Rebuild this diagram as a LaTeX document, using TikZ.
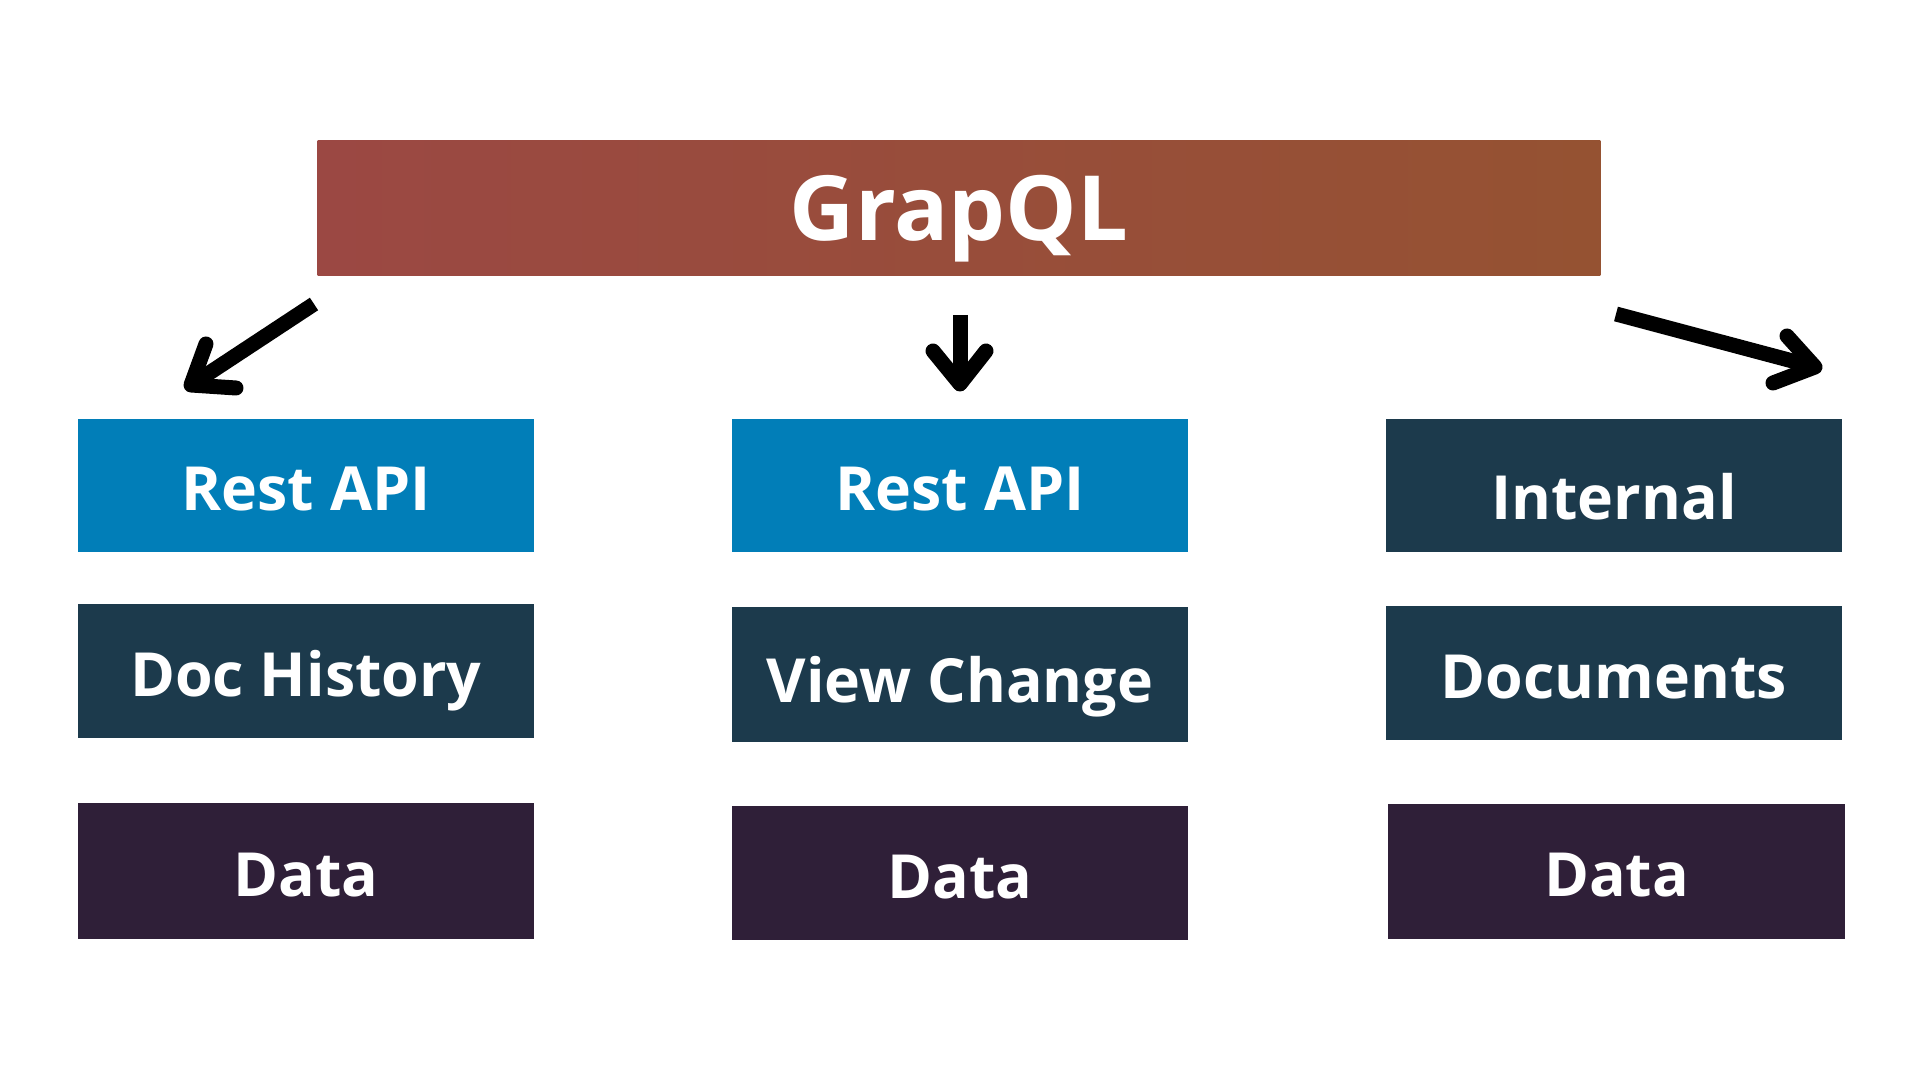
\documentclass[tikz,border=0pt]{standalone}
\usepackage{fontspec}
\setmainfont{Open Sans}
\usepackage{tikz}
\usetikzlibrary{positioning,calc}
\definecolor{qlleft}{RGB}{155,72,67}
\definecolor{qlright}{RGB}{149,82,50}
\definecolor{apiblue}{RGB}{1,126,184}
\definecolor{midteal}{RGB}{28,58,76}
\definecolor{datapurple}{RGB}{47,31,56}
\tikzset{every picture/.style={x=0.01cm,y=-0.01cm}}
\tikzset{layer box/.style={minimum width=4.56cm,minimum height=1.34cm,inner sep=0pt,
    text=white,font=\bfseries\fontsize{17.3pt}{20pt}\selectfont,
    text height=14.5pt,text depth=0pt}}
\tikzset{api box/.style={layer box,fill=apiblue}}
\tikzset{mid box/.style={layer box,fill=midteal}}
\tikzset{data box/.style={layer box,fill=datapurple}}
\tikzset{shaft/.style={line width=0.15cm,line cap=butt}}
\tikzset{barb/.style={line width=0.15cm,line cap=round,line join=round}}

\begin{document}
\begin{tikzpicture}
      \useasboundingbox (0,0) rectangle (1920,1080);
      \node [minimum width=12.82cm,minimum height=1.34cm,inner sep=0pt,
             left color=qlleft,right color=qlright,text=white,
             font=\bfseries\fontsize{25.6pt}{30pt}\selectfont,
             text height=18.3pt,text depth=0pt] (ql) at (959,208) {GrapQL};
      % first row
      \node [api box,minimum height=1.33cm] (rest1) at (306,485.5) {Rest API};
      \node [api box,minimum height=1.33cm] (rest2) at (960,485.5) {Rest API};
      \node [mid box,minimum height=1.33cm] (internal) at (1614,485.5) {\raisebox{-0.09cm}{Internal}};
      % second row
      \node [mid box] (history) at (306,671) {Doc History};
      \node [mid box,minimum height=1.35cm] (view) at (960,674.5) {\raisebox{-0.03cm}{View Change}};
      \node [mid box] (documents) at (1614,673) {Documents};
      % third row
      \node [data box,minimum height=1.36cm] (data1) at (306,871) {Data};
      \node [data box] (data2) at (960,873) {Data};
      \node [data box,minimum height=1.35cm] (data3) at (1616.5,871.5) {Data};
      % arrows
      \coordinate (lt) at (314,304);
      \coordinate (lh) at (191,385);
      \coordinate (mt) at (960,315);
      \coordinate (mh) at (960,384);
      \coordinate (rt) at (1616,314);
      \coordinate (rh) at (1815,367);
      \draw [shaft] (lt) -- (lh);
      \draw [barb] (206,344) -- (lh) -- (236,388);
      \draw [shaft] (mt) -- (mh);
      \draw [barb] (933,351) -- (mh) -- (986,351);
      \draw [shaft] (rt) -- (rh);
      \draw [barb] (1787,336) -- (rh) -- (1773,383);
    \end{tikzpicture}
\end{document}
